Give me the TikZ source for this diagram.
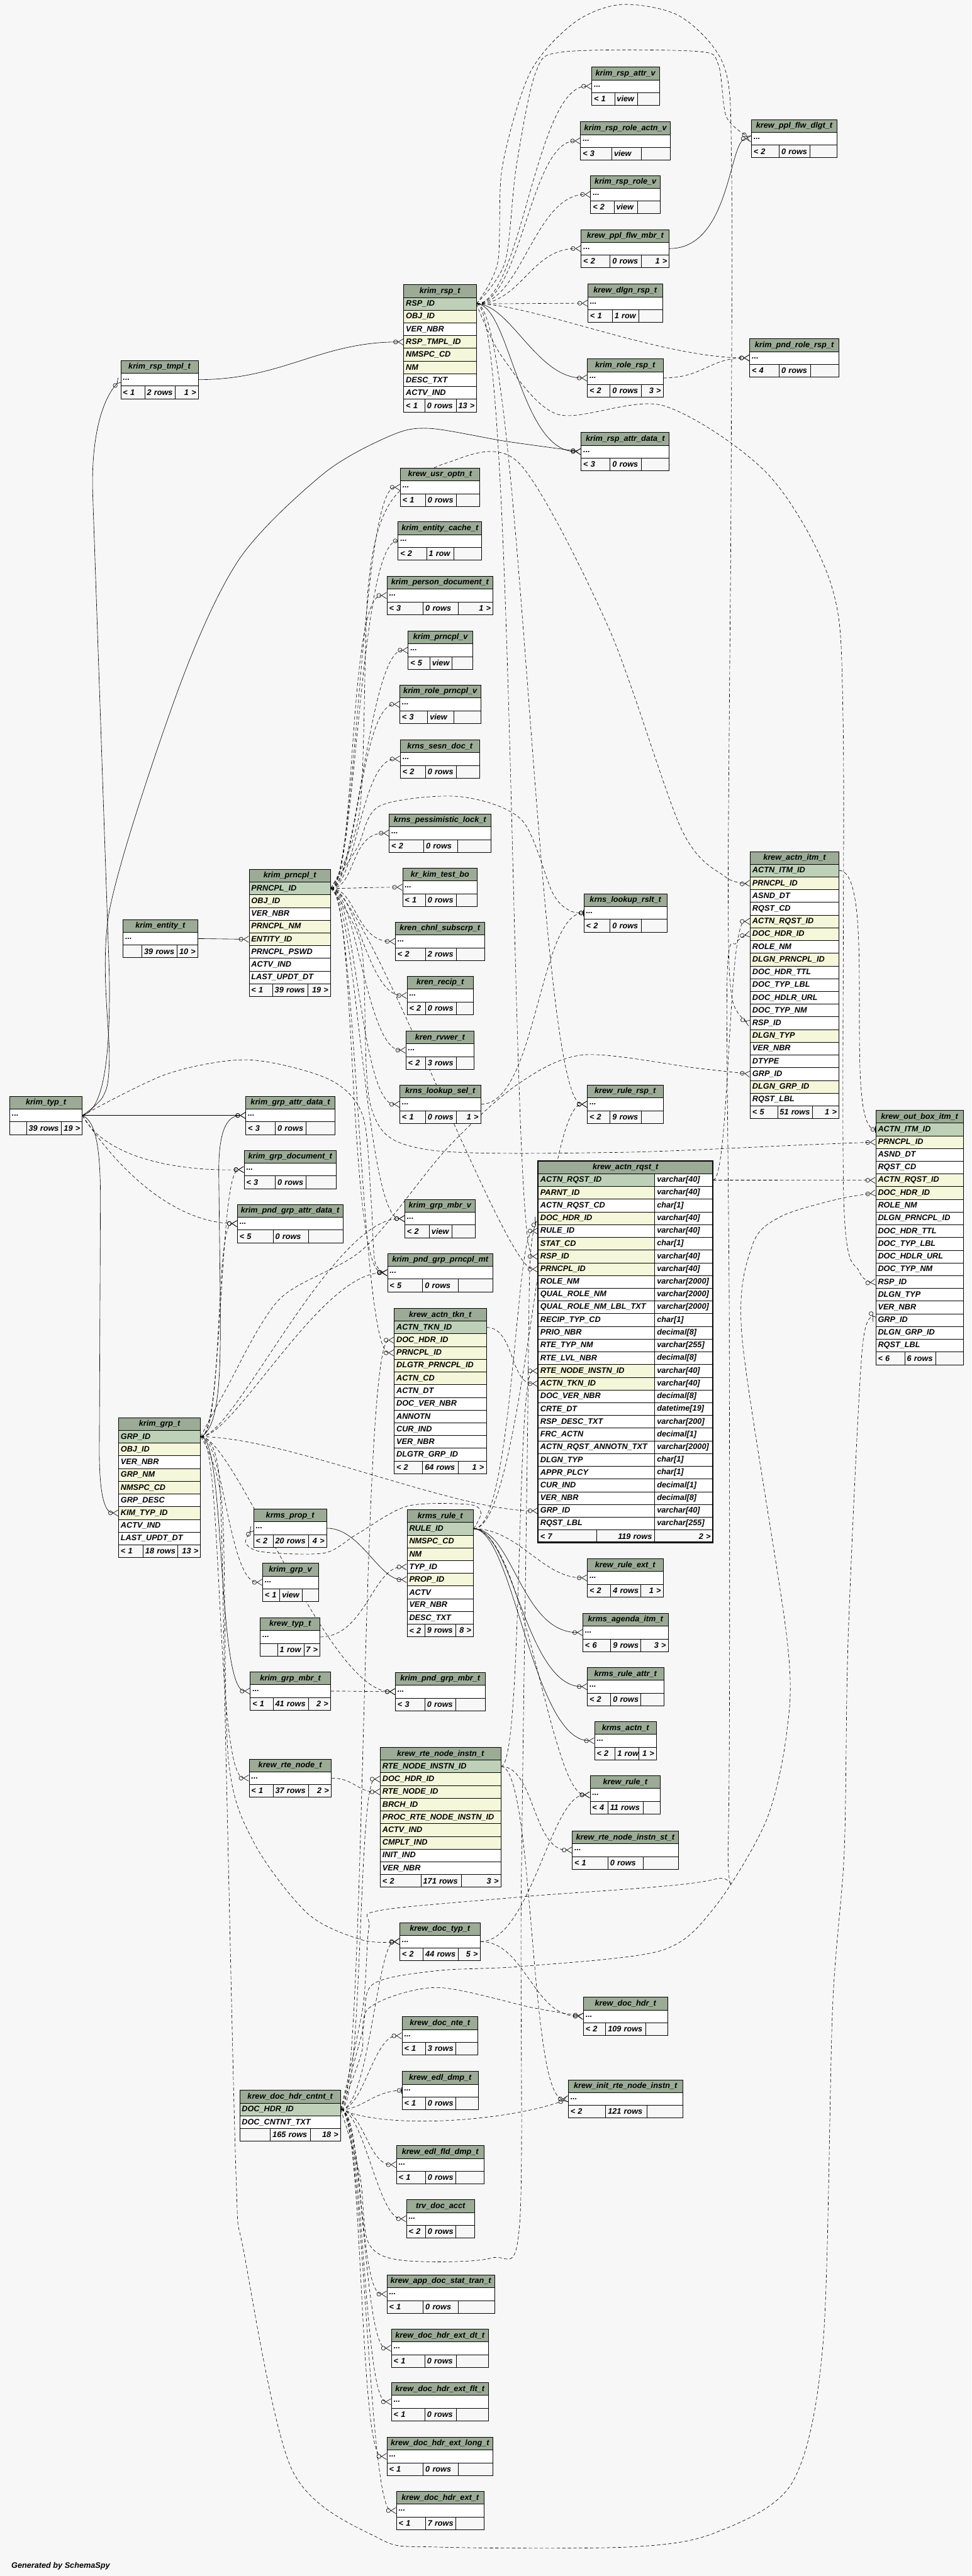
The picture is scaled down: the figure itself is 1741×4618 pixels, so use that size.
\documentclass[tikz,border=0pt]{standalone}
\usepackage{fontspec}
\setmainfont{Liberation Sans}
\usetikzlibrary{arrows.meta}
\definecolor{bgc}{HTML}{F7F7F7}
\definecolor{headc}{HTML}{9BAB96}
\definecolor{cp}{HTML}{BED1B8}
\definecolor{cf}{HTML}{F4F7DA}
\definecolor{cw}{HTML}{FFFFFF}
\newcommand\tblfont{\fontsize{14.3}{17}\selectfont\bfseries\itshape}
\newcommand\more{...}
\def\rh{22.8}
\pgfdeclarelayer{back}
\pgfdeclarelayer{edges}
\pgfsetlayers{back,edges,main}
\tikzset{
    % crow's foot ends of the relations
    crowfoot/.tip={Circle[open,length=8pt,width=8pt] Straight Barb[reversed,length=9pt,width=11pt]},
    onetip/.tip={Circle[open,length=8pt,width=8pt] Bar[width=11pt]},
    cell/.style={
        draw,
        line width=0.8pt,
        anchor=north west,
        minimum height=\rh pt,
        inner xsep=4pt,
        inner ysep=0pt,
        font=\tblfont
    },
    tblhead/.style={cell, fill=headc, align=center},
    tblrow/.style={cell, align=left},
    tblfoot/.style={cell, fill=bgc},
    fks/.style={line width=0.7pt, -{crowfoot}},
    fkd/.style={fks, dash pattern=on 6pt off 4pt},
    fkt/.style={line width=0.7pt, dash pattern=on 6pt off 4pt, -{onetip}}
}
% one table: (x,y,width,divider1,divider2){name}{kind/column,...}{left/middle/right}
\def\tbl(#1,#2,#3,#4,#5)#6#7#8{%
    \node[tblhead, minimum width=#3pt] (#6-0) at (#1,#2) {#6};
    \pgfmathsetmacro\tw{#3-8}%
    \foreach [count=\k] \kind/\col in {#7} {%
        \node[tblrow, fill=c\kind, text width=\tw pt] (#6-\k) at (#1,#2+\k*\rh) {\col};
        \xdef\nc{\k}}%
    \pgfmathsetmacro\fy{#2+(\nc+1)*\rh}%
    \pgfmathsetmacro\wa{#4-#1-8}%
    \pgfmathsetmacro\wb{#5-#4-8}%
    \pgfmathsetmacro\wc{#1+#3-#5-8}%
    \foreach \fl/\fm/\fr in {#8} {%
        \node[tblfoot, text width=\wa pt, align=left] (#6-fl) at (#1,\fy) {\mbox{\fl}};
        \node[tblfoot, text width=\wb pt, align=left] (#6-fm) at (#4,\fy) {\mbox{\fm}};
        \node[tblfoot, text width=\wc pt, align=right] (#6-fr) at (#5,\fy) {\mbox{\fr}};}%
}
% relation from parent row to child row
\newcommand\fk[5][fkd]{\draw[#1] (#2) .. controls +(#4,0) and +(-#5,0) .. (#3);}
\catcode`\_=12

\begin{document}
\begin{tikzpicture}[x=1pt, y=-1pt]
    \useasboundingbox (0,0) rectangle (1741,4618);
    \begin{pgfonlayer}{back}
        \fill[bgc] (0,0) rectangle (1741,4618);
    \end{pgfonlayer}

    % responsibilities
    \tbl(1060,120,121,1101,1142){krim_rsp_attr_v}{w/\more}{< 1/view/}
    \tbl(1040,218,161,1096,1149){krim_rsp_role_actn_v}{w/\more}{< 3/view/}
    \tbl(1058,314,125,1100,1142){krim_rsp_role_v}{w/\more}{< 2/view/}
    \tbl(1041,411,158,1093,1149){krew_ppl_flw_mbr_t}{w/\more}{< 2/0 rows/1 >}
    \tbl(1053,509,134,1097,1144){krew_dlgn_rsp_t}{w/\more}{< 1/1 row/}
    \tbl(1052,643,136,1093,1149){krim_role_rsp_t}{w/\more}{< 2/0 rows/3 >}
    \tbl(1041,775,158,1093,1149){krim_rsp_attr_data_t}{w/\more}{< 3/0 rows/}
    \tbl(1346,214,154,1396,1451){krew_ppl_flw_dlgt_t}{w/\more}{< 2/0 rows/}
    \tbl(1343,607,160,1396,1452){krim_pnd_role_rsp_t}{w/\more}{< 4/0 rows/}
    \tbl(723,510,130,761,817){krim_rsp_t}{p/RSP_ID,f/OBJ_ID,w/VER_NBR,f/RSP_TMPL_ID,f/NMSPC_CD,f/NM,w/DESC_TXT,w/ACTV_IND}{< 1/0 rows/13 >}
    \tbl(216,646,139,259,313){krim_rsp_tmpl_t}{w/\more}{< 1/2 rows/1 >}

    % principals
    \tbl(220,1648,134,254,317){krim_entity_t}{w/\more}{/39 rows/10 >}
    \tbl(446,1558,146,488,551){krim_prncpl_t}{p/PRNCPL_ID,f/OBJ_ID,w/VER_NBR,f/PRNCPL_NM,f/ENTITY_ID,w/PRNCPL_PSWD,w/ACTV_IND,w/LAST_UPDT_DT}{< 1/39 rows/19 >}
    \tbl(17,1965,130,47,109){krim_typ_t}{w/\more}{/39 rows/19 >}
    \tbl(717,839,142,762,817){krew_usr_optn_t}{w/\more}{< 1/0 rows/}
    \tbl(713,935,150,764,813){krim_entity_cache_t}{w/\more}{< 2/1 row/}
    \tbl(693,1033,190,758,821){krim_person_document_t}{w/\more}{< 3/0 rows/1 >}
    \tbl(731,1131,116,770,809){krim_prncpl_v}{w/\more}{< 5/view/}
    \tbl(716,1228,145,766,813){krim_role_prncpl_v}{w/\more}{< 3/view/}
    \tbl(717,1326,142,762,817){krns_sesn_doc_t}{w/\more}{< 2/0 rows/}
    \tbl(697,1459,182,759,820){krns_pessimistic_lock_t}{w/\more}{< 2/0 rows/}
    \tbl(721,1556,134,762,817){kr_kim_test_bo}{w/\more}{< 1/0 rows/}
    \tbl(708,1653,160,762,817){kren_chnl_subscrp_t}{w/\more}{< 2/2 rows/}
    \tbl(729,1750,119,762,817){kren_recip_t}{w/\more}{< 2/0 rows/}
    \tbl(727,1848,122,762,817){kren_rvwer_t}{w/\more}{< 2/3 rows/}
    \tbl(716,1945,145,762,817){krns_lookup_sel_t}{w/\more}{< 1/0 rows/1 >}
    \tbl(1046,1602,149,1093,1149){krns_lookup_rslt_t}{w/\more}{< 2/0 rows/}
    \tbl(1052,1945,136,1093,1149){krew_rule_rsp_t}{w/\more}{< 2/9 rows/}

    % action items
    \tbl(1344,1526,159,1393,1455){krew_actn_itm_t}{p/ACTN_ITM_ID,f/PRNCPL_ID,w/ASND_DT,w/RQST_CD,f/ACTN_RQST_ID,f/DOC_HDR_ID,w/ROLE_NM,f/DLGN_PRNCPL_ID,w/DOC_HDR_TTL,w/DOC_TYP_LBL,w/DOC_HDLR_URL,w/DOC_TYP_NM,w/RSP_ID,f/DLGN_TYP,w/VER_NBR,w/DTYPE,w/GRP_ID,f/DLGN_GRP_ID,w/RQST_LBL}{< 5/51 rows/1 >}
    \tbl(1569,1990,157,1621,1676){krew_out_box_itm_t}{p/ACTN_ITM_ID,f/PRNCPL_ID,w/ASND_DT,w/RQST_CD,f/ACTN_RQST_ID,f/DOC_HDR_ID,w/ROLE_NM,w/DLGN_PRNCPL_ID,w/DOC_HDR_TTL,w/DOC_TYP_LBL,w/DOC_HDLR_URL,w/DOC_TYP_NM,w/RSP_ID,w/DLGN_TYP,w/VER_NBR,w/GRP_ID,w/DLGN_GRP_ID,w/RQST_LBL}{< 6/6 rows/}

    % the focused table
    \node[tblhead, minimum width=313pt] (krew_actn_rqst_t-0) at (964,2081) {krew_actn_rqst_t};
    \foreach [count=\k] \kind/\col/\typ in {p/ACTN_RQST_ID/varchar[40], f/PARNT_ID/varchar[40], w/ACTN_RQST_CD/char[1], f/DOC_HDR_ID/varchar[40], w/RULE_ID/varchar[40], f/STAT_CD/char[1], f/RSP_ID/varchar[40], f/PRNCPL_ID/varchar[40], w/ROLE_NM/varchar[2000], w/QUAL_ROLE_NM/varchar[2000], w/QUAL_ROLE_NM_LBL_TXT/varchar[2000], w/RECIP_TYP_CD/char[1], w/PRIO_NBR/decimal[8], w/RTE_TYP_NM/varchar[255], w/RTE_LVL_NBR/decimal[8], f/RTE_NODE_INSTN_ID/varchar[40], f/ACTN_TKN_ID/varchar[40], w/DOC_VER_NBR/decimal[8], w/CRTE_DT/datetime[19], w/RSP_DESC_TXT/varchar[200], w/FRC_ACTN/decimal[1], w/ACTN_RQST_ANNOTN_TXT/varchar[2000], w/DLGN_TYP/char[1], w/APPR_PLCY/char[1], w/CUR_IND/decimal[1], w/VER_NBR/decimal[8], w/GRP_ID/varchar[40], w/RQST_LBL/varchar[255]} {
        \node[tblrow, fill=c\kind, text width=201pt] (krew_actn_rqst_t-\k) at (964,2081+\k*\rh) {\col};
        \node[tblrow, fill=cw, text width=96pt] (krew_actn_rqst_t-\k-type) at (1173,2081+\k*\rh) {\typ};
    }
    \node[tblfoot, text width=97pt, align=left] (krew_actn_rqst_t-fl) at (964,2081+29*\rh) {< 7};
    \node[tblfoot, text width=95pt, align=right] (krew_actn_rqst_t-fm) at (1069,2081+29*\rh) {119 rows};
    \node[tblfoot, text width=97pt, align=right] (krew_actn_rqst_t-fr) at (1172,2081+29*\rh) {2 >};
    \draw[line width=2.5pt] (964,2081) rectangle (1277,2081+30*\rh);

    % groups
    \tbl(440,1965,160,493,548){krim_grp_attr_data_t}{w/\more}{< 3/0 rows/}
    \tbl(437,2062,165,493,548){krim_grp_document_t}{w/\more}{< 3/0 rows/}
    \tbl(425,2159,189,489,552){krim_pnd_grp_attr_data_t}{w/\more}{< 5/0 rows/}
    \tbl(212,2541,147,256,318){krim_grp_t}{p/GRP_ID,f/OBJ_ID,w/VER_NBR,f/GRP_NM,f/NMSPC_CD,w/GRP_DESC,f/KIM_TYP_ID,w/ACTV_IND,w/LAST_UPDT_DT}{< 1/18 rows/13 >}
    \tbl(454,2705,131,489,552){krms_prop_t}{w/\more}{< 2/20 rows/4 >}
    \tbl(470,2802,100,501,541){krim_grp_v}{w/\more}{< 1/view/}
    \tbl(466,2900,107,497,544){krew_typ_t}{w/\more}{/1 row/7 >}
    \tbl(448,2997,144,489,552){krim_grp_mbr_t}{w/\more}{< 1/41 rows/2 >}
    \tbl(446,3153,147,489,552){krew_rte_node_t}{w/\more}{< 1/37 rows/2 >}
    \tbl(725,2150,126,769,810){krim_grp_mbr_v}{w/\more}{< 2/view/}
    \tbl(694,2247,189,757,821){krim_pnd_grp_prncpl_mt}{w/\more}{< 5/0 rows/}
    \tbl(706,2345,165,757,821){krew_actn_tkn_t}{p/ACTN_TKN_ID,f/DOC_HDR_ID,f/PRNCPL_ID,f/DLGTR_PRNCPL_ID,f/ACTN_CD,w/ACTN_DT,w/DOC_VER_NBR,w/ANNOTN,w/CUR_IND,w/VER_NBR,w/DLGTR_GRP_ID}{< 2/64 rows/1 >}
    \tbl(729,2706,119,761,816){krms_rule_t}{p/RULE_ID,f/NMSPC_CD,f/NM,w/TYP_ID,f/PROP_ID,w/ACTV,w/VER_NBR,w/DESC_TXT}{< 2/9 rows/8 >}
    \tbl(708,2998,161,761,816){krim_pnd_grp_mbr_t}{w/\more}{< 3/0 rows/}

    % rules and route nodes
    \tbl(681,3132,216,754,826){krew_rte_node_instn_t}{p/RTE_NODE_INSTN_ID,f/DOC_HDR_ID,f/RTE_NODE_ID,f/BRCH_ID,f/PROC_RTE_NODE_INSTN_ID,f/ACTV_IND,f/CMPLT_IND,w/INIT_IND,w/VER_NBR}{< 2/171 rows/3 >}
    \tbl(1052,2794,136,1094,1148){krew_rule_ext_t}{w/\more}{< 2/4 rows/1 >}
    \tbl(1044,2892,153,1094,1148){krms_agenda_itm_t}{w/\more}{< 6/9 rows/3 >}
    \tbl(1052,2989,137,1094,1148){krms_rule_attr_t}{w/\more}{< 2/0 rows/}
    \tbl(1065,3086,111,1102,1144){krms_actn_t}{w/\more}{< 2/1 row/1 >}
    \tbl(1057,3183,126,1089,1152){krew_rule_t}{w/\more}{< 4/11 rows/}
    \tbl(1025,3282,190,1089,1152){krew_rte_node_instn_st_t}{w/\more}{< 1/0 rows/}

    % documents
    \tbl(716,3446,144,758,821){krew_doc_typ_t}{w/\more}{< 2/44 rows/5 >}
    \tbl(720,3615,136,762,816){krew_doc_nte_t}{w/\more}{< 1/3 rows/}
    \tbl(720,3713,137,762,816){krew_edl_dmp_t}{w/\more}{< 1/0 rows/}
    \tbl(710,3846,157,762,816){krew_edl_fld_dmp_t}{w/\more}{< 1/0 rows/}
    \tbl(1045,3580,151,1085,1157){krew_doc_hdr_t}{w/\more}{< 2/109 rows/}
    \tbl(1018,3728,205,1085,1159){krew_init_rte_node_instn_t}{w/\more}{< 2/121 rows/}
    \tbl(429,3747,181,484,556){krew_doc_hdr_cntnt_t}{p/DOC_HDR_ID,w/DOC_CNTNT_TXT}{/165 rows/18 >}
    \tbl(728,3943,122,762,816){trv_doc_acct}{w/\more}{< 2/0 rows/}
    \tbl(693,4078,193,758,821){krew_app_doc_stat_tran_t}{w/\more}{< 1/0 rows/}
    \tbl(701,4175,174,761,817){krew_doc_hdr_ext_dt_t}{w/\more}{< 1/0 rows/}
    \tbl(701,4271,174,761,817){krew_doc_hdr_ext_flt_t}{w/\more}{< 1/0 rows/}
    \tbl(693,4369,190,758,821){krew_doc_hdr_ext_long_t}{w/\more}{< 1/0 rows/}
    \tbl(710,4466,157,762,816){krew_doc_hdr_ext_t}{w/\more}{< 1/7 rows/}

    \node[anchor=base west, font=\tblfont] (credit) at (17,4604) {Generated by SchemaSpy};

    \begin{pgfonlayer}{edges}
        % from krim_rsp_t
        \fk{krim_rsp_t-1.east}{krim_rsp_attr_v-1.west}{80}{100}
        \fk{krim_rsp_t-1.east}{krim_rsp_role_actn_v-1.west}{80}{90}
        \fk{krim_rsp_t-1.east}{krim_rsp_role_v-1.west}{80}{100}
        \fk{krim_rsp_t-1.east}{krew_ppl_flw_mbr_t-1.west}{80}{90}
        \fk{krim_rsp_t-1.east}{krew_dlgn_rsp_t-1.west}{60}{60}
        \fk[fks]{krim_rsp_t-1.east}{krim_role_rsp_t-1.west}{60}{90}
        \fk{krim_rsp_t-1.east}{krim_pnd_role_rsp_t-1.west}{100}{160}
        \fk[fks]{krim_rsp_t-1.east}{krim_rsp_attr_data_t-1.west}{60}{110}
        \fk{krim_rsp_t-1.east}{krew_actn_rqst_t-7.west}{70}{50}
        \fk{krim_rsp_t-1.east}{krew_rule_rsp_t-1.west}{80}{90}
        \draw[fkd] plot[smooth] coordinates {(krim_rsp_t-1.east) (905,470) (925,300) (960,130) (1010,93) (1248,92) (1287,115) (1302,210) (krew_ppl_flw_dlgt_t-1.west)};
        \draw[fkd] plot[smooth] coordinates {(krim_rsp_t-1.east) (892,470) (900,300) (950,130) (1030,40) (1115,8) (1220,30) (1298,120) (1311,300) (1310,900) (1305,1600) (1312,1790) (krew_actn_itm_t-13.west)};
        \draw[fkd] plot[smooth] coordinates {(krim_rsp_t-1.east) (900,640) (1000,743) (1188,727) (1377,851) (1490,1050) (1511,1300) (1512,2150) (1540,2280) (krew_out_box_itm_t-13.west)};
        \fk[fks]{krim_rsp_tmpl_t-1.east}{krim_rsp_t-4.west}{150}{150}

        % from krim_typ_t
        \draw[fks] (krim_typ_t-1.east) .. controls (185,1990) and (198,1900) .. (196,1750) -- (166,880) .. controls (164,790) and (180,720) .. (krim_rsp_tmpl_t-1.west);
        \draw[fks] plot[smooth] coordinates {(krim_typ_t-1.east) (185,1965) (196,1900) (196,1633) (321,1232) (429,1002) (580,849) (700,781) (770,768) (906,791) (krim_rsp_attr_data_t-1.west)};
        \draw[fks] (krim_typ_t-1.east) -- (krim_grp_attr_data_t-1.west);
        \draw[fkd] (krim_typ_t-1.east) .. controls (190,2080) and (330,2100) .. (krim_grp_document_t-1.west);
        \draw[fkd] (krim_typ_t-1.east) .. controls (200,2080) and (300,2190) .. (krim_pnd_grp_attr_data_t-1.west);
        \draw[fks] (krim_typ_t-1.east) .. controls (170,2010) and (180,2050) .. (180,2150) -- (178,2600) .. controls (178,2690) and (190,2712) .. (krim_grp_t-7.west);
        \draw[fkd] plot[smooth] coordinates {(krim_typ_t-1.east) (300,1925) (446,1900) (590,1935) (650,2000) (665,2150) (672,2262) (krim_pnd_grp_prncpl_mt-1.west)};
        \draw[fks] (krim_entity_t-1.east) -- (krim_prncpl_t-5.west);

        % from krim_prncpl_t
        \foreach \tn in {krew_usr_optn_t, krim_person_document_t, krim_prncpl_v, krim_role_prncpl_v, krns_sesn_doc_t, krns_pessimistic_lock_t, kr_kim_test_bo, kren_chnl_subscrp_t, kren_recip_t, kren_rvwer_t, krns_lookup_sel_t, krim_grp_mbr_v, krim_pnd_grp_prncpl_mt}
            {\fk{krim_prncpl_t-1.east}{\tn-1.west}{45}{70}}
        \fk[fkt]{krim_prncpl_t-1.east}{krim_entity_cache_t-1.west}{45}{70}
        \fk{krim_prncpl_t-1.east}{krew_actn_tkn_t-3.west}{45}{60}
        \fk{krim_prncpl_t-1.east}{krew_actn_rqst_t-8.west}{60}{60}
        \draw[fkt] plot[smooth] coordinates {(krim_prncpl_t-1.east) (640,1520) (680,1445) (823,1428) (935,1470) (990,1600) (1020,1632) (krns_lookup_rslt_t-1.west)};
        \draw[fkd] plot[smooth] coordinates {(krim_prncpl_t-1.east) (645,1450) (660,1050) (700,900) (800,830) (930,830) (1091,1126) (1221,1486) (1300,1572) (krew_actn_itm_t-2.west)};
        \draw[fkd] plot[smooth] coordinates {(krim_prncpl_t-1.east) (648,1700) (665,1985) (760,2060) (1100,2066) (1450,2052) (krew_out_box_itm_t-2.west)};

        % from krim_grp_t
        \draw[fks] (krim_grp_t-1.east) .. controls (395,2560) and (395,2450) .. (395,2350) -- (392,2100) .. controls (392,2030) and (405,2000) .. (krim_grp_attr_data_t-1.west);
        \fk{krim_grp_t-1.east}{krim_grp_document_t-1.west}{40}{45}
        \fk{krim_grp_t-1.east}{krim_pnd_grp_attr_data_t-1.west}{40}{40}
        \fk{krim_grp_t-1.east}{krim_grp_v-1.west}{40}{60}
        \fk[fks]{krim_grp_t-1.east}{krim_grp_mbr_t-1.west}{45}{60}
        \fk{krim_grp_t-1.east}{krew_rte_node_t-1.west}{40}{60}
        \fk{krim_grp_t-1.east}{krim_pnd_grp_mbr_t-1.west}{60}{120}
        \fk{krim_grp_t-1.east}{krim_grp_mbr_v-1.west}{60}{130}
        \fk{krim_grp_t-1.east}{krim_pnd_grp_prncpl_mt-1.west}{60}{120}
        \fk{krim_grp_t-1.east}{krew_actn_rqst_t-27.west}{150}{150}
        \draw[fkd] plot[smooth] coordinates {(krim_grp_t-1.east) (400,2500) (500,2330) (651,2239) (800,2060) (926,1945) (1046,1891) (1250,1915) (krew_actn_itm_t-17.west)};
        \draw[fkd] plot[smooth] coordinates {(krim_grp_t-1.east) (393,2650) (405,3150) (423,3900) (437,4037) (523,4427) (678,4550) (782,4566) (1126,4566) (1280,4541) (1420,4450) (1475,4200) (1492,3600) (1513,3318) (1520,2935) (1545,2420) (krew_out_box_itm_t-16.west)};
        \draw[fkd] plot[smooth] coordinates {(krim_grp_t-1.east) (398,2700) (409,3150) (455,3303) (552,3431) (650,3478) (krew_doc_typ_t-1.west)};

        % rules
        \fk[fks]{krms_prop_t-1.east}{krms_rule_t-5.west}{60}{50}
        \draw[fkd] plot[smooth] coordinates {(krms_rule_t-1.east) (862,2712) (840,2697) (730,2700) (640,2750) (581,2784) (470,2782) (440,2765) (krms_prop_t-1.west)};
        \fk{krew_typ_t-1.east}{krms_rule_t-4.west}{80}{60}
        \fk{krms_rule_t-1.east}{krew_rule_ext_t-1.west}{80}{80}
        \fk[fks]{krms_rule_t-1.east}{krms_agenda_itm_t-1.west}{70}{110}
        \fk[fks]{krms_rule_t-1.east}{krms_rule_attr_t-1.west}{70}{110}
        \fk[fks]{krms_rule_t-1.east}{krms_actn_t-1.west}{70}{110}
        \fk{krms_rule_t-1.east}{krew_rule_t-1.west}{90}{70}
        \fk{krms_rule_t-1.east}{krew_actn_rqst_t-5.west}{70}{40}
        \fk{krms_rule_t-1.east}{krew_rule_rsp_t-1.west}{90}{80}

        % single links
        \fk[fks]{krew_ppl_flw_mbr_t-1.east}{krew_ppl_flw_dlgt_t-1.west}{110}{40}
        \fk{krim_role_rsp_t-1.east}{krim_pnd_role_rsp_t-1.west}{70}{70}
        \fk[fkt]{krns_lookup_sel_t-1.east}{krns_lookup_rslt_t-1.west}{100}{80}
        \fk[fkt]{krew_actn_itm_t-1.east}{krew_out_box_itm_t-1.west}{70}{60}
        \draw[fkd] (krew_actn_rqst_t-1-type.east) -- (krew_out_box_itm_t-5.west);
        \fk{krew_actn_rqst_t-1-type.east}{krew_actn_itm_t-5.west}{30}{40}
        \fk{krew_actn_tkn_t-1.east}{krew_actn_rqst_t-17.west}{50}{50}
        \fk{krew_rte_node_instn_t-1.east}{krew_actn_rqst_t-16.west}{40}{40}
        \fk{krew_rte_node_instn_t-1.east}{krew_rte_node_instn_st_t-1.west}{60}{70}
        \fk{krew_rte_node_instn_t-1.east}{krew_init_rte_node_instn_t-1.west}{60}{70}
        \fk{krew_rte_node_t-1.east}{krew_rte_node_instn_t-3.west}{40}{40}
        \fk{krim_grp_mbr_t-1.east}{krim_pnd_grp_mbr_t-1.west}{50}{50}
        \fk{krew_doc_typ_t-1.east}{krew_doc_hdr_t-1.west}{80}{90}
        \fk{krew_doc_typ_t-1.east}{krew_rule_t-1.west}{90}{70}

        % from krew_doc_hdr_cntnt_t
        \foreach \tn in {krew_doc_nte_t, krew_edl_fld_dmp_t, trv_doc_acct, krew_app_doc_stat_tran_t, krew_doc_hdr_ext_dt_t, krew_doc_hdr_ext_flt_t, krew_doc_hdr_ext_long_t, krew_doc_hdr_ext_t}
            {\fk{krew_doc_hdr_cntnt_t-1.east}{\tn-1.west}{40}{50}}
        \fk[fkt]{krew_doc_hdr_cntnt_t-1.east}{krew_edl_dmp_t-1.west}{40}{50}
        \fk{krew_doc_hdr_cntnt_t-1.east}{krew_rte_node_instn_t-2.west}{40}{40}
        \fk{krew_doc_hdr_cntnt_t-1.east}{krew_actn_tkn_t-2.west}{45}{60}
        \fk{krew_doc_hdr_cntnt_t-1.east}{krew_doc_typ_t-1.west}{50}{40}
        \draw[fkd] (krew_doc_hdr_cntnt_t-1.east) .. controls (700,3820) and (920,3800) .. (krew_init_rte_node_instn_t-1.west);
        \draw[fkd] plot[smooth] coordinates {(krew_doc_hdr_cntnt_t-1.east) (648,3680) (661,3600) (782,3563) (954,3599) (krew_doc_hdr_t-1.west)};
        \draw[fkd] plot[smooth] coordinates {(krew_doc_hdr_cntnt_t-1.east) (645,3900) (660,4020) (720,4052) (880,4048) (931,3990) (934,3400) (945,2600) (950,2260) (krew_actn_rqst_t-4.west)};
        \draw[fkd] plot[smooth] coordinates {(krew_doc_hdr_cntnt_t-1.east) (650,3600) (661,3456) (680,3425) (940,3400) (1280,3369) (1305,3300) (1307,2400) (1303,1760) (1320,1690) (krew_actn_itm_t-6.west)};
        \draw[fkd] plot[smooth] coordinates {(krew_doc_hdr_cntnt_t-1.east) (650,3640) (667,3558) (782,3533) (937,3525) (1184,3497) (1280,3420) (1373,3264) (1410,3104) (1410,2935) (1330,2400) (1348,2233) (1399,2181) (1500,2150) (krew_out_box_itm_t-6.west)};
    \end{pgfonlayer}
\end{tikzpicture}
\end{document}
